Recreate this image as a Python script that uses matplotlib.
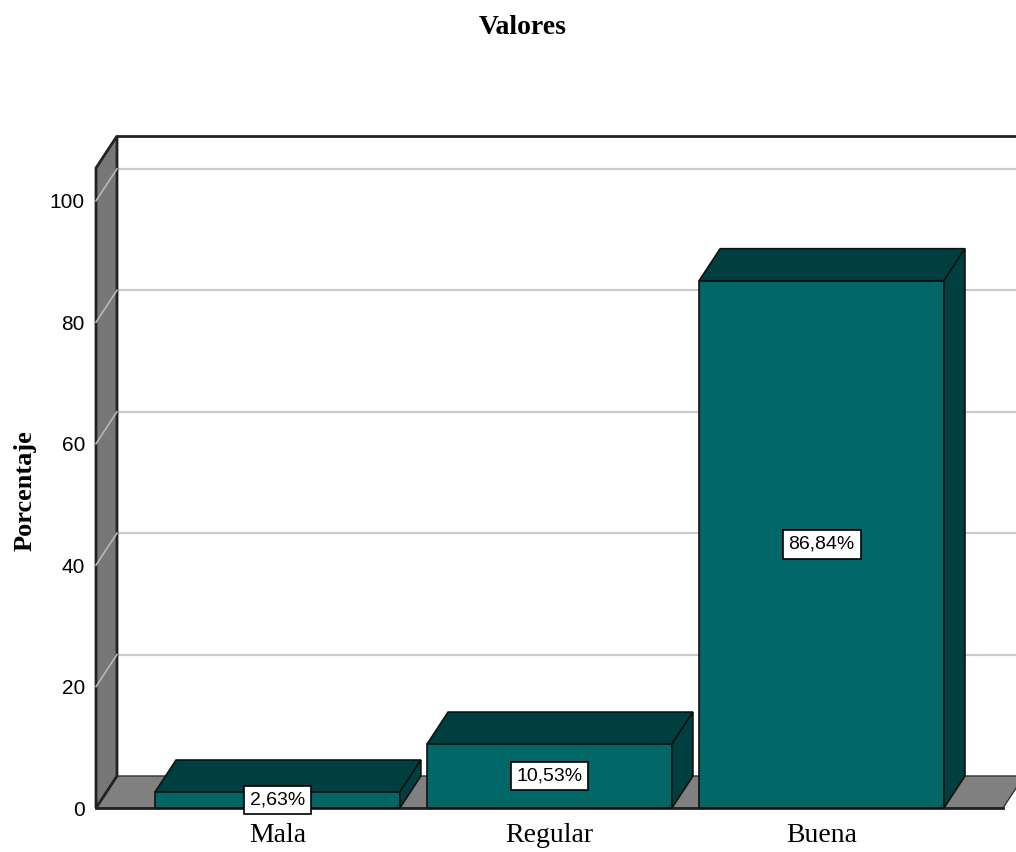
import matplotlib
matplotlib.use("Agg")
import matplotlib.pyplot as plt
from matplotlib.patches import Polygon, Rectangle

categorias = ["Mala", "Regular", "Buena"]
porcentajes = [2.63, 10.53, 86.84]
etiquetas = ["2,63%", "10,53%", "86,84%"]
yticks = [0, 20, 40, 60, 80, 100]

frente = "#006666"
oscuro = "#003f3f"
gris = "#808080"
rejilla = "#cccccc"

sans = ["Liberation Sans", "DejaVu Sans"]
serif = ["Liberation Serif", "DejaVu Serif"]

fig = plt.figure(figsize=(10.16, 8.52), dpi=100)
ax = fig.add_axes([96 / 1016, 44 / 852, 907 / 1016, 640 / 852])
xmin, xmax = -0.667, 2.667
ytop = 105.4
ax.set_xlim(xmin, xmax)
ax.set_ylim(0, ytop)
for s in ax.spines.values():
    s.set_visible(False)

# profundidad del efecto 3D, en unidades de datos
DX, DY = 0.0772, 5.27
ancho = 0.9
xr = xmax + 0.5  # se corta en el borde de la figura

# pared del fondo
ax.add_patch(Rectangle((xmin + DX, DY), xr - xmin, ytop, facecolor="white",
                       edgecolor="none", zorder=0, clip_on=False))
for v in yticks[1:]:
    ax.plot([xmin + DX, xr], [v + DY, v + DY], color=rejilla, lw=1.6, zorder=1, clip_on=False)
ax.plot([xmin + DX, xr], [ytop + DY, ytop + DY], color="#222222", lw=2, zorder=1, clip_on=False)

# suelo
ax.add_patch(Polygon([(xmin, 0), (xmax, 0), (xmax + DX, DY), (xmin + DX, DY)],
                     closed=True, facecolor=gris, edgecolor="#333333", lw=1,
                     zorder=2, clip_on=False))
ax.plot([xmin, xmax], [0, 0], color="#222222", lw=2, zorder=2.5, clip_on=False)

# pared izquierda
ax.add_patch(Polygon([(xmin, 0), (xmin, ytop), (xmin + DX, ytop + DY), (xmin + DX, DY)],
                     closed=True, facecolor="#777777", edgecolor="#222222", lw=2,
                     zorder=3, clip_on=False))
for v in yticks[1:]:
    ax.plot([xmin, xmin + DX], [v, v + DY], color="#b8b8b8", lw=1.2, zorder=3.5, clip_on=False)

# barras
for i, (v, lab) in enumerate(zip(porcentajes, etiquetas)):
    x0, x1 = i - ancho / 2, i + ancho / 2
    ax.add_patch(Rectangle((x0, 0), ancho, v, facecolor=frente, edgecolor="#111111",
                           lw=1.2, zorder=5, clip_on=False))
    ax.add_patch(Polygon([(x0, v), (x1, v), (x1 + DX, v + DY), (x0 + DX, v + DY)],
                         closed=True, facecolor=oscuro, edgecolor="#111111", lw=1.2,
                         zorder=5, clip_on=False))
    ax.add_patch(Polygon([(x1, 0), (x1 + DX, DY), (x1 + DX, v + DY), (x1, v)],
                         closed=True, facecolor=oscuro, edgecolor="#111111", lw=1.2,
                         zorder=5, clip_on=False))
    ax.text(i, v / 2, lab, ha="center", va="center", fontsize=14, family=sans,
            zorder=6, bbox=dict(boxstyle="square,pad=0.3", facecolor="white",
                                edgecolor="black", lw=1.2))

ax.set_xticks(range(len(categorias)))
ax.set_xticklabels(categorias, family=serif, fontsize=20)
ax.set_yticks(yticks)
ax.set_yticklabels([str(t) for t in yticks], family=sans, fontsize=15)
ax.tick_params(axis="x", length=0, pad=11)
ax.tick_params(axis="y", length=0, pad=8)

fig.text(523 / 1016, 1 - 27 / 852, "Valores", ha="center", va="center",
         family=serif, fontsize=20, fontweight="bold")
fig.text(25 / 1016, 1 - 491 / 852, "Porcentaje", ha="center", va="center",
         rotation=90, family=serif, fontsize=19, fontweight="bold")

fig.savefig("out.png", dpi=100, facecolor="white")
